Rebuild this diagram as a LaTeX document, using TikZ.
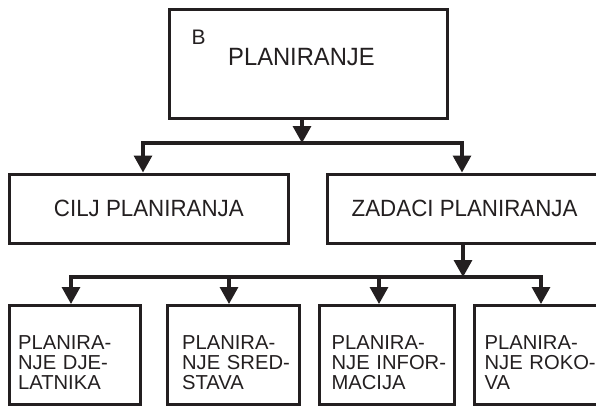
\documentclass[tikz,border=0pt]{standalone}
\usepackage{fontspec}
\setmainfont{Liberation Sans}
\newfontfamily\headfont[FakeStretch=0.95]{Liberation Sans}
\usetikzlibrary{arrows.meta}
\definecolor{ink}{RGB}{35,31,32}
\begin{document}
\begin{tikzpicture}[x=1pt,y=-1pt,
  box/.style={draw=ink, text=ink, line width=3.2pt, inner sep=0pt, anchor=north west},
  leaf/.style={box, minimum height=99pt, align=left,
    font=\fontsize{20.2}{20}\selectfont},
  mid/.style={box, minimum height=69pt, font=\headfont\fontsize{23.5}{26}\selectfont},
  label/.style={text=ink, inner sep=0pt, anchor=north west},
  conn/.style={draw=ink, line width=3.2pt},
  arr/.style={conn, -{Triangle[width=18pt,length=17pt]}}]
\useasboundingbox (0,0) rectangle (596,405);

% top level
\node[box, minimum width=278pt, minimum height=109pt] (top) at (168,8) {};
\node[label, font=\fontsize{21}{24}\selectfont] (tag) at (191.5,30) {B};
\node[label, font=\headfont\fontsize{25}{28}\selectfont] (toptxt) at (228,48) {PLANIRANJE};

% second level
\node[mid, minimum width=279.5pt] (cilj) at (7.5,172.5) {CILJ PLANIRANJA};
\node[mid, minimum width=274pt] (zad) at (326,172.5) {ZADACI PLANIRANJA};

% third level: each row kept on one line, block lowered a little
\newcommand{\lift}{\rule{0pt}{28.5pt}}
\newcommand{\row}[1]{\mbox{#1}}
\node[leaf, minimum width=131.5pt, inner xsep=9pt, text width=113.5pt] (p1) at (7.5,304)
  {\lift\row{PLANIRA-}\\\row{NJE DJE-}\\\row{LATNIKA}};
\node[leaf, minimum width=131.5pt, inner xsep=14.5pt, text width=102.5pt] (p2) at (166,304)
  {\lift\row{PLANIRA-}\\\row{NJE SRED-}\\\row{STAVA}};
\node[leaf, minimum width=135pt, inner xsep=12.5pt, text width=110pt] (p3) at (317.5,304)
  {\lift\row{PLANIRA-}\\\row{NJE INFOR-}\\\row{MACIJA}};
\node[leaf, minimum width=127pt, inner xsep=10pt, text width=107pt] (p4) at (473,304)
  {\lift\row{PLANIRA-}\\\row{NJE ROKO-}\\\row{VA}};

% connectors, first branching
\coordinate (j1) at (302,143);
\coordinate (b1l) at (143,143);
\coordinate (b1r) at (462,143);
\draw[arr] (top.south -| j1) -- (j1);
\draw[arr] (b1r) -- (b1l) -- (b1l |- cilj.north);
\draw[arr] (b1l) -- (b1r) -- (b1r |- zad.north);

% connectors, second branching
\coordinate (j2) at (463,277);
\coordinate (b2l) at (71,277);
\coordinate (k2) at (229,277);
\coordinate (k3) at (379,277);
\coordinate (b2r) at (541,277);
\draw[arr] (zad.south -| j2) -- (j2);
\draw[arr] (b2r) -- (b2l) -- (b2l |- p1.north);
\draw[arr] (b2l) -- (b2r) -- (b2r |- p4.north);
\draw[arr] (k2) -- (k2 |- p2.north);
\draw[arr] (k3) -- (k3 |- p3.north);
\end{tikzpicture}
\end{document}
